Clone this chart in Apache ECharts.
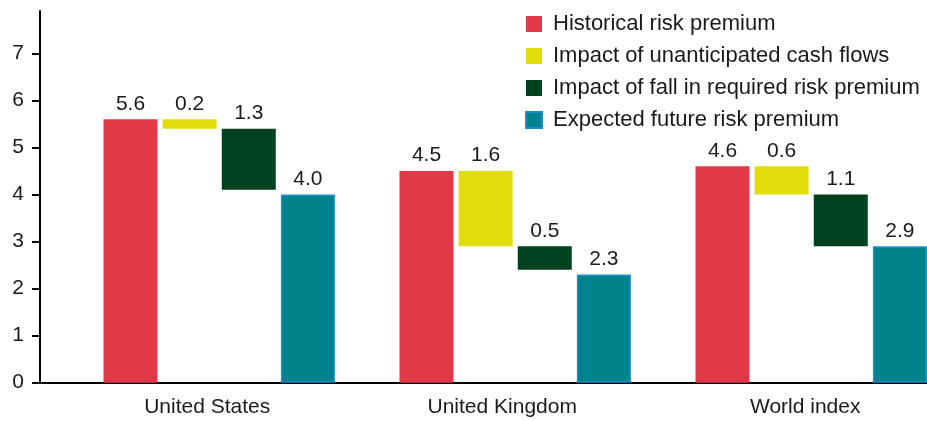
<!DOCTYPE html>
<html>
<head>
<meta charset="utf-8">
<script src="https://cdn.jsdelivr.net/npm/echarts@6/dist/echarts.min.js"></script>
<style>
html,body{margin:0;padding:0;background:#fff;}
#chart{width:927px;height:421px;}
</style>
</head>
<body>
<div id="chart"></div>
<script>
const categories = ['United States', 'United Kingdom', 'World index'];
const historical = [5.6, 4.5, 4.6];
const unanticipated = [0.2, 1.6, 0.6];
const fallRequired = [1.3, 0.5, 1.1];
const expected = [4.0, 2.3, 2.9];
const seriesNames = ['Historical risk premium', 'Impact of unanticipated cash flows', 'Impact of fall in required risk premium', 'Expected future risk premium'];
const yTicks = [0, 1, 2, 3, 4, 5, 6, 7];

const colors = { red: '#e13a47', yellow: '#e2dc0b', green: '#00421f', teal: '#00838a', tealBorder: '#1a8fd0' };
const FONT = '"Liberation Sans", Arial, sans-serif';

const base1 = historical.map((h, i) => +(h - unanticipated[i]).toFixed(2));
const base2 = historical.map((h, i) => +(h - unanticipated[i] - fallRequired[i]).toFixed(2));

const lbl = {
  show: true, position: 'top', distance: 5, color: '#1a1a1a',
  fontSize: 21, fontFamily: FONT,
  formatter: p => Number(p.value).toFixed(1)
};

const chart = echarts.init(document.getElementById('chart'), null, { renderer: 'canvas' });
const TOP = 11, BOTTOM = 38.3, YMAX = 7.9;

chart.setOption({
  animation: false,
  textStyle: { fontFamily: FONT },
  grid: [
    { left: 71.2, width: 888, top: TOP, bottom: BOTTOM, outerBoundsMode: 'none', containLabel: false },
    { left: 40, right: 0, top: TOP, bottom: BOTTOM, outerBoundsMode: 'none', containLabel: false }
  ],
  legend: {
    orient: 'vertical', left: 525, top: 13, padding: 0,
    icon: 'rect',
    itemWidth: 16, itemHeight: 16, itemGap: 10,
    textStyle: { fontSize: 22, color: '#1a1a1a', fontFamily: FONT, padding: [0, 0, 0, 6] },
    data: seriesNames
  },
  xAxis: [
    {
      type: 'category', gridIndex: 0, data: categories,
      axisLine: { show: false }, axisTick: { show: false },
      axisLabel: {
        margin: 14, color: '#1a1a1a', fontSize: 21, fontFamily: FONT,
        formatter: (v, i) => '{s' + i + '|' + v + '}',
        rich: {
          s0: { padding: [0, 24, 0, 0], fontSize: 21, fontFamily: FONT, color: '#1a1a1a' },
          s1: { padding: [0, 26, 0, 0], fontSize: 21, fontFamily: FONT, color: '#1a1a1a' },
          s2: { padding: [0, 12, 0, 0], fontSize: 21, fontFamily: FONT, color: '#1a1a1a' }
        }
      }
    },
    {
      type: 'value', gridIndex: 1, min: 0, max: 1,
      axisLine: { show: true, onZero: false, lineStyle: { color: '#000', width: 2 } },
      axisTick: { show: false }, axisLabel: { show: false }, splitLine: { show: false }
    }
  ],
  yAxis: [
    { type: 'value', gridIndex: 0, min: 0, max: YMAX, show: false, splitLine: { show: false } },
    {
      type: 'value', gridIndex: 1, min: 0, max: YMAX, interval: 1,
      axisLine: { show: true, lineStyle: { color: '#000', width: 2 } },
      axisTick: { show: true, length: 8, lineStyle: { color: '#000', width: 2 }, customValues: yTicks },
      axisLabel: { margin: 16, color: '#1a1a1a', fontSize: 21, fontFamily: FONT, customValues: yTicks },
      splitLine: { show: false }
    }
  ],
  series: [
    {
      name: seriesNames[0], type: 'bar', xAxisIndex: 0, yAxisIndex: 0,
      barWidth: 54, barGap: '9.5%',
      itemStyle: { color: colors.red }, label: lbl, data: historical
    },
    {
      name: 'base1', type: 'bar', stack: 'u', xAxisIndex: 0, yAxisIndex: 0, barWidth: 54,
      itemStyle: { color: 'rgba(0,0,0,0)' }, silent: true, data: base1
    },
    {
      name: seriesNames[1], type: 'bar', stack: 'u', xAxisIndex: 0, yAxisIndex: 0, barWidth: 54,
      itemStyle: { color: colors.yellow }, label: lbl, data: unanticipated
    },
    {
      name: 'base2', type: 'bar', stack: 'f', xAxisIndex: 0, yAxisIndex: 0, barWidth: 54,
      itemStyle: { color: 'rgba(0,0,0,0)' }, silent: true, data: base2
    },
    {
      name: seriesNames[2], type: 'bar', stack: 'f', xAxisIndex: 0, yAxisIndex: 0, barWidth: 54,
      itemStyle: { color: colors.green }, label: lbl, data: fallRequired
    },
    {
      name: seriesNames[3], type: 'bar', xAxisIndex: 0, yAxisIndex: 0, barWidth: 54,
      itemStyle: { color: colors.teal, borderColor: colors.tealBorder, borderWidth: 1.5 },
      label: lbl, data: expected
    }
  ]
});
</script>
</body>
</html>
